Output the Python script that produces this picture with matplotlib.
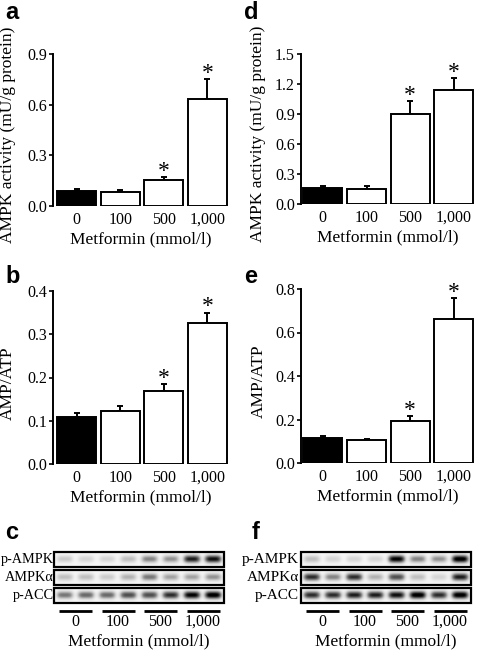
import numpy as np
import matplotlib
matplotlib.use("Agg")
import matplotlib.pyplot as plt
from matplotlib.patches import Rectangle

plt.rcParams["font.family"] = "Liberation Serif"
plt.rcParams["font.size"] = 11.5

# Dose labels (metformin, mmol/l)
doses = ["0", "100", "500", "1,000"]

# a: AMPK activity, left column
a_mean = [0.090, 0.085, 0.154, 0.632]
a_err = [0.010, 0.007, 0.019, 0.120]
# d: AMPK activity, right column
d_mean = [0.157, 0.155, 0.897, 1.140]
d_err = [0.026, 0.025, 0.136, 0.123]
# b: AMP/ATP, left column
b_mean = [0.109, 0.123, 0.168, 0.325]
b_err = [0.009, 0.012, 0.016, 0.025]
# e: AMP/ATP, right column
e_mean = [0.116, 0.107, 0.194, 0.663]
e_err = [0.006, 0.005, 0.020, 0.096]
# significance marks (same for all bar panels)
sig = [False, False, True, True]

# blots: band darkness per lane (2 lanes per dose)
blot_rows = ["p-AMPK", "AMPK\u03b1", "p-ACC"]
c_pampk = [0.25, 0.20, 0.20, 0.30, 0.50, 0.45, 0.85, 0.90]
c_ampk = [0.30, 0.30, 0.25, 0.35, 0.55, 0.40, 0.40, 0.45]
c_pacc = [0.55, 0.60, 0.60, 0.70, 0.70, 0.80, 0.95, 1.00]
f_pampk = [0.30, 0.20, 0.20, 0.20, 0.95, 0.50, 0.45, 1.00]
f_ampk = [0.80, 0.50, 0.80, 0.35, 0.70, 0.30, 0.20, 0.85]
f_pacc = [0.80, 0.80, 0.85, 0.85, 0.90, 1.00, 0.80, 1.00]

W, H = 478, 650
fig = plt.figure(figsize=(W / 100, H / 100), dpi=100)


def px_axes(x0, y0, x1, y1):
    return fig.add_axes([x0 / W, 1 - y1 / H, (x1 - x0) / W, (y1 - y0) / H])


def bar_panel(box, mean, err, ymax, step, ylabel, xlim, label_x):
    ax = px_axes(*box)
    x = np.arange(len(mean))
    colors = ["black"] + ["white"] * (len(mean) - 1)
    ax.errorbar(x, mean, yerr=[np.zeros(len(err)), err], fmt="none",
                ecolor="black", elinewidth=1.4, capsize=2.2, capthick=1.4, zorder=1)
    ax.bar(x, mean, width=0.89, color=colors, edgecolor="black", linewidth=1.4, zorder=2)
    for i in range(len(mean)):
        if sig[i]:
            ax.annotate("*", (x[i], mean[i] + err[i]), xytext=(0, -3.5),
                        textcoords="offset points", ha="center", va="bottom", fontsize=17)
    ax.set_xlim(*xlim)
    ax.set_ylim(0, ymax)
    ticks = np.arange(0, ymax + step / 2, step)
    ax.set_yticks(ticks)
    ax.set_yticklabels([f"{t:.1f}" for t in ticks])
    ax.set_xticks(x)
    ax.set_xticklabels(doses)
    ax.tick_params(axis="x", length=0, pad=4)
    ax.tick_params(axis="y", length=3, width=1.2, pad=1.5)
    for s in ["top", "right", "bottom"]:
        ax.spines[s].set_visible(False)
    ax.spines["left"].set_linewidth(1.4)
    ax.set_xlabel("Metformin (mmol/l)", fontsize=12.5, labelpad=3)
    ax.set_ylabel(ylabel, fontsize=12.5)
    ax.yaxis.set_label_coords(label_x, 0.47)
    return ax


def band_image(vals, nx=320, ny=40):
    xs = np.linspace(0, len(vals), nx)
    ys = np.linspace(-1, 1, ny)[:, None]
    img = np.full((ny, nx), 0.07)
    for i, v in enumerate(vals):
        prof = np.exp(-((xs - (i + 0.5)) / 0.4) ** 4)
        img += v * prof[None, :] * np.exp(-(ys / 0.5) ** 2)
    return np.clip(img, 0, 1)


def blot_panel(box, rows, label_dx, label_size):
    ax = px_axes(*box)
    n = len(rows[0])
    ax.set_xlim(0, n)
    ax.set_ylim(3, 0)
    ax.axis("off")
    g = 0.09
    for r, vals in enumerate(rows):
        ax.imshow(band_image(vals), extent=(0, n, r + 1 - g, r + g), cmap="Greys",
                  vmin=0, vmax=1, aspect="auto", interpolation="bilinear")
        ax.add_patch(Rectangle((0, r + g), n, 1 - 2 * g, fill=False, edgecolor="black",
                               linewidth=1.6, clip_on=False))
        ax.text(label_dx, r + 0.5, blot_rows[r], ha="right", va="center", fontsize=label_size)
    for k, d in enumerate(doses):
        ax.plot([2 * k + 0.25, 2 * k + 1.8], [3.32, 3.32], color="black", linewidth=2,
                clip_on=False, solid_capstyle="butt")
        ax.text(2 * k + 1.0, 3.93, d, ha="center", va="center", fontsize=11.5)
    ax.text(n / 2, 5.0, "Metformin (mmol/l)", ha="center", va="center", fontsize=12.5)
    return ax


bar_panel((53, 54, 228, 206), a_mean, a_err, 0.9, 0.3,
          "AMPK activity (mU/g protein)", (-0.54, 3.47), -0.21)
bar_panel((301, 54, 474, 204), d_mean, d_err, 1.5, 0.3,
          "AMPK activity (mU/g protein)", (-0.5, 3.46), -0.2)
bar_panel((53, 291, 228, 464), b_mean, b_err, 0.4, 0.1,
          "AMP/ATP", (-0.54, 3.47), -0.21)
bar_panel((301, 289, 474, 463), e_mean, e_err, 0.8, 0.2,
          "AMP/ATP", (-0.5, 3.46), -0.2)

blot_panel((54, 550, 224, 605), [c_pampk, c_ampk, c_pacc], -0.02, 10.3)
blot_panel((301, 550, 471, 605), [f_pampk, f_ampk, f_pacc], -0.1, 11)

letter_kw = dict(fontsize=17, fontweight="bold", family="Liberation Sans", va="top", ha="left")
fig.text(5 / W, 1 - 1 / H, "a", **letter_kw)
fig.text(244 / W, 1 - 1 / H, "d", **letter_kw)
fig.text(5 / W, 1 - 265 / H, "b", **letter_kw)
fig.text(244 / W, 1 - 265 / H, "e", **letter_kw)
fig.text(5 / W, 1 - 521 / H, "c", **letter_kw)
fig.text(252 / W, 1 - 521 / H, "f", **letter_kw)

fig.savefig("out.png", dpi=100)
